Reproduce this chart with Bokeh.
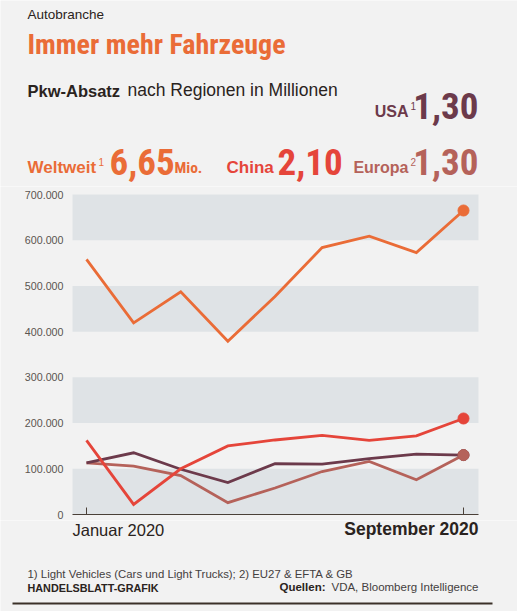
from bokeh.plotting import figure
from bokeh.layouts import column
from bokeh.models import Range1d, FixedTicker, CustomJSTickFormatter, BoxAnnotation
from bokeh.core.properties import value
from bokeh.embed import file_html
from bokeh.resources import INLINE

# ---- data ----
months = ["Jan", "Feb", "Mär", "Apr", "Mai", "Jun", "Jul", "Aug", "Sep"]
weltweit = [558000, 419000, 487000, 379000, 477000, 584000, 609000, 573000, 665000]
china = [162000, 22000, 100000, 150000, 163000, 173000, 162000, 172000, 210000]
usa = [113000, 135000, 99000, 70000, 111000, 110000, 122000, 132000, 130000]
europa = [113000, 106000, 85000, 26000, 58000, 94000, 116000, 76000, 130000]
y_ticks = [0, 100000, 200000, 300000, 400000, 500000, 600000, 700000]
band_lo = [0, 200000, 400000, 600000]
band_hi = [100000, 300000, 500000, 700000]
x_tick_labels = ["Januar 2020", "September 2020"]
headline = {"Weltweit": "6,65", "China": "2,10", "USA": "1,30", "Europa": "1,30"}

BG = "#F2F2F2"
BAND = "#DFE3E6"
C_WELT = "#EA6C37"
C_CHINA = "#E5453A"
C_USA = "#6C3A4B"
C_EU = "#B5625A"
DARK = "#2A2320"
GREY = "#5A5550"
SANS = "Liberation Sans"
COND = "Roboto Condensed, DejaVu Sans Condensed, Liberation Sans Narrow, Roboto"

W = 517
TOP_H = 186      # header strip: page y 0..186
CHART_H = 334    # chart strip: page y 186..520
FOOT_H = 611 - TOP_H - CHART_H

# page-pixel geometry of the plotting area (layout, not data)
X_FIRST, X_LAST = 86, 463      # page x of first / last month
BAND_L, BAND_R = 72, 478        # page x of shaded band edges
Y_ZERO, Y_TOP = 514, 194        # page y of 0 and of 700.000
step = (X_LAST - X_FIRST) / (len(months) - 1)
vpp = 700000 / (Y_ZERO - Y_TOP)


def xdata(px):
    return (px - X_FIRST) / step


def ydata(py):
    return (Y_ZERO - py) * vpp


def strip(h):
    f = figure(width=W, height=h, output_backend="svg", toolbar_location=None,
               x_range=Range1d(0, W), y_range=Range1d(h, 0),
               min_border=0, background_fill_color=BG, border_fill_color=BG,
               outline_line_color=None)
    f.axis.visible = False
    f.grid.visible = False
    return f


def txt(f, text, px, base, size, color, font=SANS, style="normal", align="left"):
    # base = page y of the text baseline; "middle" sits ~0.35 em above it
    f.text(x=[px], y=[base - 0.35 * size], text=[text], text_font=value(font),
           text_font_size=value(f"{size}px"), text_color=color,
           text_font_style=style, text_align=align, text_baseline="middle")


# ---- header ----
h = strip(TOP_H)
txt(h, "Autobranche", 27, 19, 13.5, DARK)
txt(h, "Immer mehr Fahrzeuge", 27, 54, 28, C_WELT, font=COND, style="bold")
txt(h, "Pkw-Absatz", 27, 96, 16.5, DARK, style="bold")
txt(h, "nach Regionen in Millionen", 127, 96, 17.5, DARK)
# USA
txt(h, "USA", 408, 117, 16, C_USA, style="bold", align="right")
txt(h, "1", 410, 109, 10, C_USA)
txt(h, headline["USA"], 478, 118, 37, C_USA, font=COND, style="bold", align="right")
# Weltweit
txt(h, "Weltweit", 27, 173, 17, C_WELT, style="bold")
txt(h, "1", 98, 165, 10, C_WELT)
txt(h, headline["Weltweit"], 109, 174, 37, C_WELT, font=COND, style="bold")
txt(h, "Mio.", 174, 173, 15.5, C_WELT, font=COND, style="bold")
# China
txt(h, "China", 226, 173, 17, C_CHINA, style="bold")
txt(h, headline["China"], 277, 174, 37, C_CHINA, font=COND, style="bold")
# Europa
txt(h, "Europa", 408, 173, 16, C_EU, style="bold", align="right")
txt(h, "2", 410, 165, 10, C_EU)
txt(h, headline["Europa"], 478, 174, 37, C_EU, font=COND, style="bold", align="right")

# ---- chart ----
xs = list(range(len(months)))
p = figure(width=W, height=CHART_H, output_backend="svg", toolbar_location=None,
           x_range=Range1d(xdata(0), xdata(W)),
           y_range=Range1d(ydata(TOP_H + CHART_H), ydata(TOP_H)),
           min_border=0, background_fill_color=BG, border_fill_color=BG,
           outline_line_color=None)
p.grid.visible = False

for lo, hi in zip(band_lo, band_hi):
    p.add_layout(BoxAnnotation(left=xdata(BAND_L), right=xdata(BAND_R), bottom=lo, top=hi,
                               fill_color=BAND, fill_alpha=1, line_color=None, level="underlay"))

p.yaxis.fixed_location = xdata(BAND_L)
p.yaxis.ticker = FixedTicker(ticks=y_ticks)
p.yaxis.formatter = CustomJSTickFormatter(
    code="return tick.toFixed(0).replace(/\\B(?=(\\d{3})+(?!\\d))/g, '.');")
p.yaxis.axis_line_color = None
p.yaxis.major_tick_line_color = None
p.yaxis.minor_tick_line_color = None
p.yaxis.major_label_standoff = 3
p.yaxis.major_label_text_font = SANS
p.yaxis.major_label_text_font_size = "10.7px"
p.yaxis.major_label_text_color = GREY

p.xaxis.fixed_location = 0
p.xaxis.bounds = (xdata(BAND_L), xdata(BAND_R))
p.xaxis.ticker = FixedTicker(ticks=[0, len(months) - 1])
p.xaxis.major_tick_in = 7
p.xaxis.major_tick_out = 0
p.xaxis.major_tick_line_color = "#4A4038"
p.xaxis.minor_tick_line_color = None
p.xaxis.axis_line_color = "#4A4038"
p.xaxis.axis_line_width = 1.2
p.xaxis.major_label_text_color = None
p.xaxis.major_label_text_font_size = "1px"
p.xaxis.major_label_standoff = 0

for ys, col in [(europa, C_EU), (usa, C_USA), (china, C_CHINA), (weltweit, C_WELT)]:
    p.line(xs, ys, line_color=col, line_width=2.8, line_join="miter")
for ys, col in [(usa, C_USA), (europa, C_EU), (china, C_CHINA), (weltweit, C_WELT)]:
    p.scatter([xs[-1]], [ys[-1]], size=11, fill_color=col, line_color=col)

# ---- footer (page y 520..611) ----
f = strip(FOOT_H)
off = TOP_H + CHART_H
txt(f, x_tick_labels[0], 72, 535 - off, 16.5, DARK)
txt(f, x_tick_labels[1], 478, 535 - off, 17.5, DARK, style="bold", align="right")
txt(f, "1) Light Vehicles (Cars und Light Trucks); 2) EU27 & EFTA & GB", 27, 577 - off, 11.4, "#444040")
txt(f, "HANDELSBLATT-GRAFIK", 27, 591 - off, 10.8, DARK, style="bold")
txt(f, "Quellen:", 325, 591 - off, 11.5, DARK, style="bold", align="right")
txt(f, "VDA, Bloomberg Intelligence", 478, 591 - off, 11.5, "#444040", align="right")
f.segment(x0=[12], y0=[603 - off], x1=[492], y1=[603 - off], line_color="#3B3028", line_width=2)

layout = column(h, p, f, spacing=0)
open("out.html", "w").write(file_html(layout, INLINE))
